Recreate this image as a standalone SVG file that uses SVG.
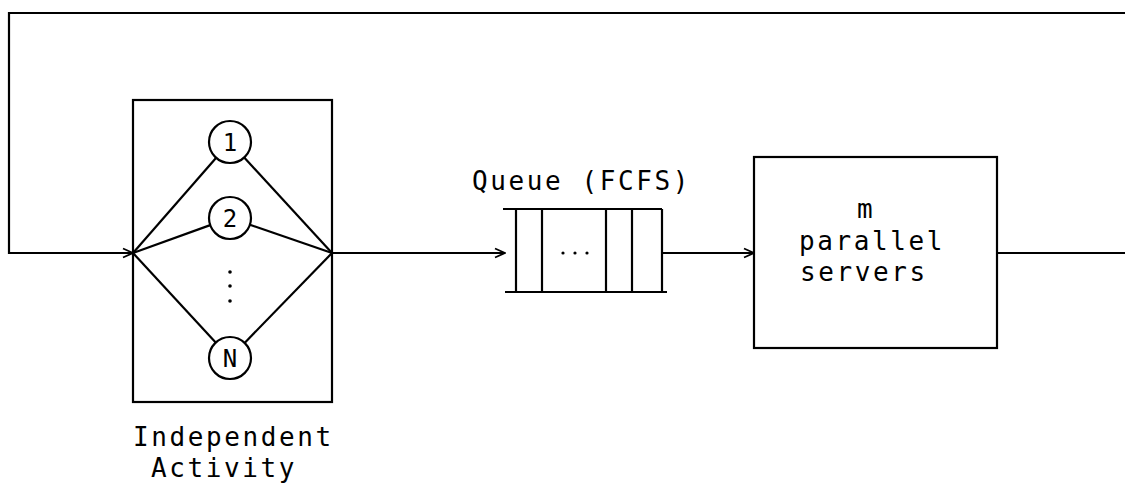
<svg xmlns="http://www.w3.org/2000/svg" width="1125" height="487" viewBox="0 0 1125 487">
<style>
.ln{fill:none;stroke:#000;stroke-width:2.2}
.bx{fill:#fff;stroke:#000;stroke-width:2.2}
.t{font-family:"DejaVu Sans Mono","Liberation Mono",monospace;font-size:26px;letter-spacing:2.6px;fill:#000}
.n{font-family:"DejaVu Sans Mono","Liberation Mono",monospace;font-size:24px;fill:#000;text-anchor:middle}
</style>
<defs>
<marker id="ah" viewBox="0 0 12 12" refX="11" refY="6" markerWidth="12" markerHeight="12" markerUnits="userSpaceOnUse" orient="auto">
<path d="M1,1.5 L11,6 L1,10.5" fill="none" stroke="#000" stroke-width="1.8"/>
</marker>
</defs>
<rect width="1125" height="487" fill="#fff"/>
<g id="independent-activity">
<rect class="bx" x="133" y="100" width="199" height="302"/>
<g id="branches" class="ln">
<line x1="133" y1="253" x2="216.2" y2="157.8"/>
<line x1="332" y1="253" x2="244.2" y2="157.5"/>
<line x1="133" y1="253" x2="210.2" y2="225.1"/>
<line x1="332" y1="253" x2="249.9" y2="224.8"/>
<line x1="133" y1="253" x2="215.7" y2="342.6"/>
<line x1="332" y1="253" x2="244.6" y2="342.9"/>
</g>
<g id="node-1"><circle class="bx" cx="230" cy="142" r="21"/><text class="n" x="230" y="151">1</text></g>
<g id="node-2"><circle class="bx" cx="230" cy="218" r="21"/><text class="n" x="230" y="227">2</text></g>
<g id="node-dots"><circle cx="230" cy="272" r="1.8"/><circle cx="230" cy="286" r="1.8"/><circle cx="230" cy="301" r="1.8"/></g>
<g id="node-N"><circle class="bx" cx="230" cy="358" r="21"/><text class="n" x="230" y="367">N</text></g>
<text class="t" x="133" y="446">Independent</text>
<text class="t" x="151" y="477">Activity</text>
</g>
<g id="queue">
<text class="t" x="472" y="190">Queue (FCFS)</text>
<g class="ln">
<line x1="503" y1="209" x2="662" y2="209"/>
<line x1="505" y1="292" x2="667" y2="292"/>
<line x1="516" y1="209" x2="516" y2="292"/>
<line x1="542" y1="209" x2="542" y2="292"/>
<line x1="606" y1="209" x2="606" y2="292"/>
<line x1="632" y1="209" x2="632" y2="292"/>
<line x1="662" y1="209" x2="662" y2="292"/>
</g>
<circle cx="563" cy="253" r="1.6"/><circle cx="575" cy="253" r="1.6"/><circle cx="587" cy="253" r="1.6"/>
</g>
<g id="servers">
<rect class="bx" x="754" y="157" width="243" height="191"/>
<text class="t" x="857" y="218">m</text>
<text class="t" x="799" y="250">parallel</text>
<text class="t" x="800" y="281">servers</text>
</g>
<g id="connectors" class="ln">
<path d="M1125,13 H9 V253 H133" marker-end="url(#ah)"/>
<line x1="332" y1="253" x2="505" y2="253" marker-end="url(#ah)"/>
<line x1="662" y1="253" x2="754" y2="253" marker-end="url(#ah)"/>
<line x1="997" y1="253" x2="1125" y2="253"/>
</g>
</svg>
